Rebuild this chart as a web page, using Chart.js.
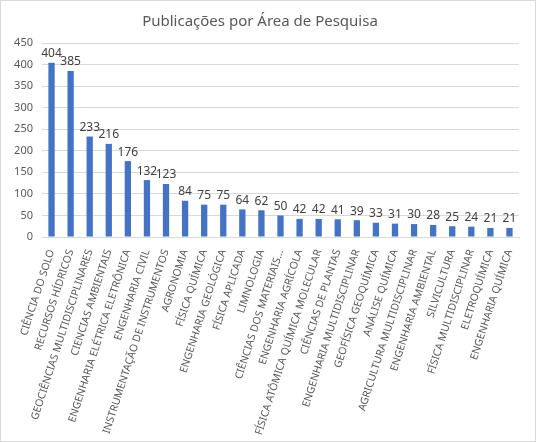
<!DOCTYPE html>
<html>
<head>
<meta charset="utf-8">
<script src="https://cdn.jsdelivr.net/npm/chart.js@4.4.1/dist/chart.umd.min.js"></script>
<style>
  html, body { margin: 0; padding: 0; background: #fff; }
  #wrap { width: 534px; height: 440px; border: 1px solid #d9d9d9; }
</style>
</head>
<body>
<div id="wrap"><canvas id="areaChart" width="534" height="440"></canvas></div>
<script>
// Categories and counts
const areas = [
    'CIÊNCIA DO SOLO', 'RECURSOS HÍDRICOS', 'GEOCIÊNCIAS MULTIDISCIPLINARES',
    'CIENCIAS AMBIENTAIS', 'ENGENHARIA ELÉTRICA ELETRÔNICA', 'ENGENHARIA CIVIL',
    'INSTRUMENTAÇÃO DE INSTRUMENTOS', 'AGRONOMIA', 'FÍSICA QUÍMICA',
    'ENGENHARIA GEOLÓGICA', 'FÍSICA APLICADA', 'LIMNOLOGIA',
    'CIÊNCIAS DOS MATERIAIS...', 'ENGENHARIA AGRÍCOLA', 'FÍSICA ATÔMICA QUÍMICA MOLECULAR',
    'CIÊNCIAS DE PLANTAS', 'ENGENHARIA MULTIDISCIPLINAR', 'GEOFÍSICA GEOQUÍMICA',
    'ANÁLISE QUÍMICA', 'AGRICULTURA MULTIDISCIPLINAR', 'ENGENHARIA AMBIENTAL',
    'SILVICULTURA', 'FÍSICA MULTIDISCIPLINAR', 'ELETROQUÍMICA', 'ENGENHARIA QUÍMICA'
];
const publicacoes = [404, 385, 233, 216, 176, 132, 123, 84, 75, 75, 64, 62, 50,
    42, 42, 41, 39, 33, 31, 30, 28, 25, 24, 21, 21];
const yTicks = [0, 50, 100, 150, 200, 250, 300, 350, 400, 450];

const fontName = '"Noto Sans", sans-serif';
const textGray = '#595959';

// value labels on top of the bars
const valueLabels = {
    id: 'valueLabels',
    afterDatasetsDraw(chart) {
        const ctx = chart.ctx;
        const meta = chart.getDatasetMeta(0);
        ctx.save();
        ctx.font = '12px ' + fontName;
        ctx.fillStyle = '#404040';
        ctx.textAlign = 'center';
        ctx.textBaseline = 'bottom';
        meta.data.forEach((bar, i) => {
            ctx.fillText(publicacoes[i], bar.x, bar.y - 3);
        });
        ctx.restore();
    }
};

new Chart(document.getElementById('areaChart').getContext('2d'), {
    type: 'bar',
    data: {
        labels: areas,
        datasets: [{
            label: 'Publicações',
            data: publicacoes,
            backgroundColor: '#4472C4',
            borderWidth: 0,
            barPercentage: 0.33,
            categoryPercentage: 1
        }]
    },
    options: {
        responsive: false,
        animation: false,
        layout: { padding: { left: 0, right: 16, top: 12, bottom: 0 } },
        plugins: {
            legend: { display: false },
            tooltip: { enabled: false },
            title: {
                display: true,
                text: 'Publicações por Área de Pesquisa',
                color: textGray,
                font: { family: fontName, size: 15, weight: 'normal' },
                padding: { top: 0, bottom: 12 }
            }
        },
        scales: {
            y: {
                min: 0,
                max: 450,
                afterBuildTicks(scale) {
                    scale.ticks = yTicks.map(v => ({ value: v }));
                },
                afterFit(scale) { scale.width = 41; },
                grid: { color: '#d9d9d9', drawTicks: false },
                border: { display: false },
                ticks: {
                    color: textGray,
                    padding: 9,
                    font: { family: fontName, size: 11 }
                }
            },
            x: {
                afterFit(scale) { scale.height = 204; },
                grid: { display: false },
                border: { color: '#d9d9d9' },
                ticks: {
                    color: textGray,
                    autoSkip: false,
                    minRotation: 72,
                    maxRotation: 72,
                    padding: 3,
                    font: { family: fontName, size: 10.5 }
                }
            }
        }
    },
    plugins: [valueLabels]
});
</script>
</body>
</html>
